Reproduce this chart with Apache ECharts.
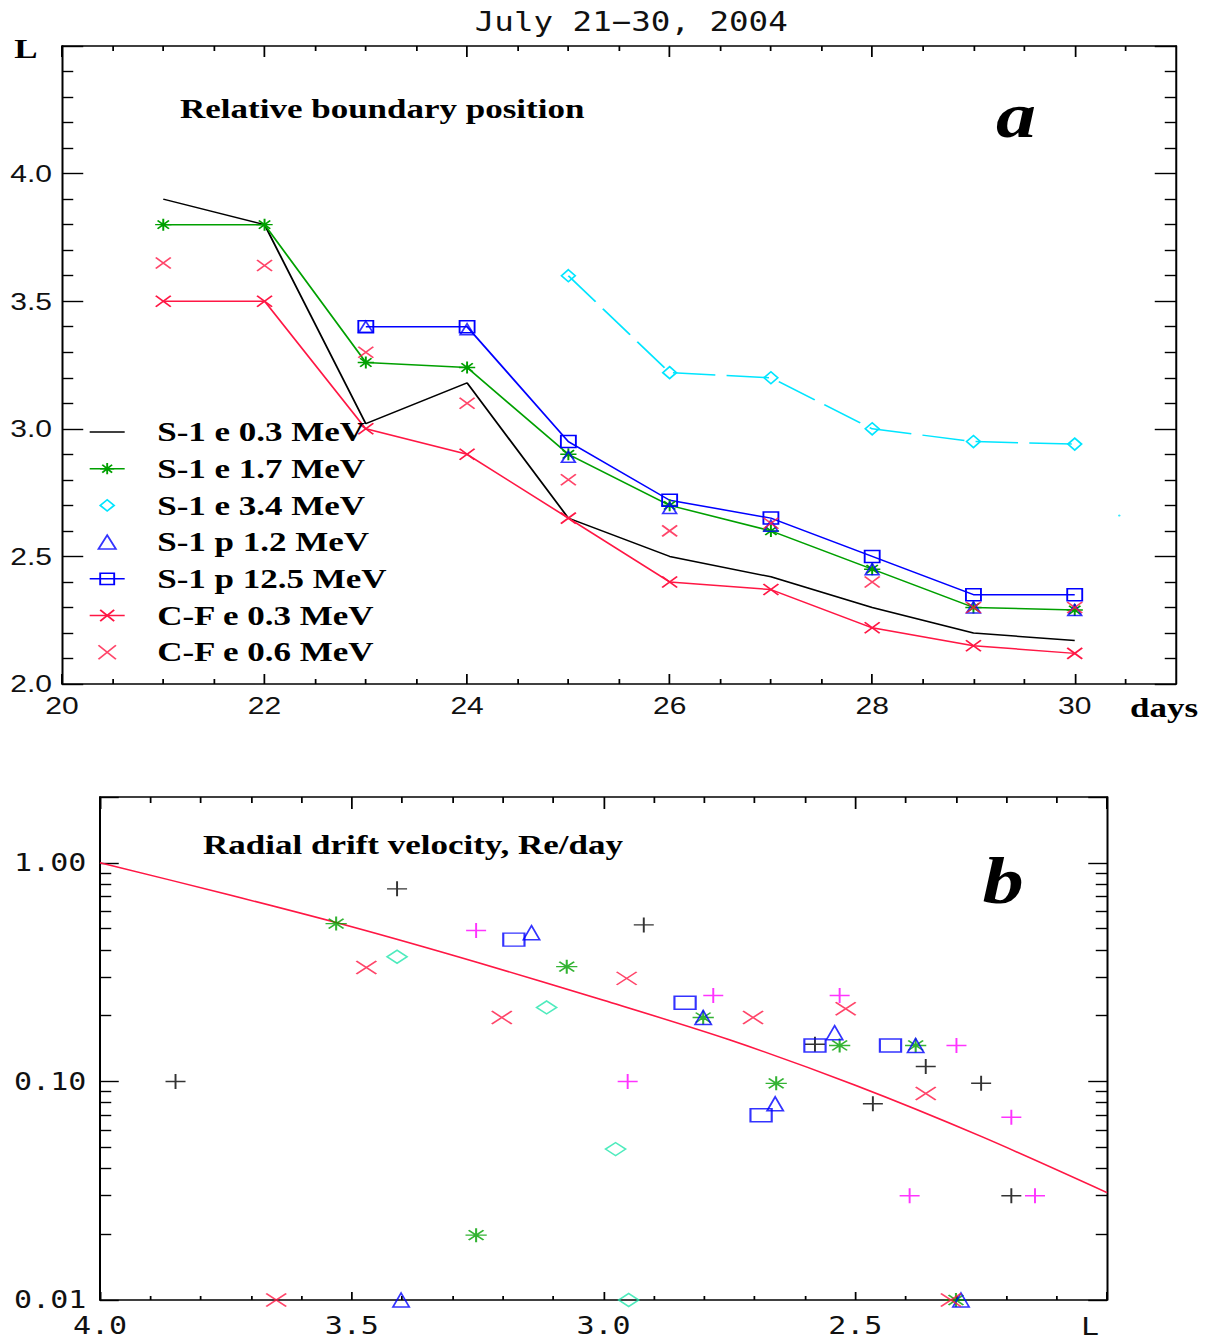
<!DOCTYPE html>
<html>
<head>
<meta charset="utf-8">
<title>Relative boundary position and radial drift velocity, July 21-30, 2004</title>
<script src="https://cdn.jsdelivr.net/npm/echarts@6/dist/echarts.min.js"></script>
<style>
  html, body { margin: 0; padding: 0; background: #fff; overflow: hidden; }
  /* The figure is laid out on a narrower canvas and widened by 1.25,
     which gives the wide lettering and wide markers of the original plot. */
  #chart { width: 966px; height: 1340px; transform: scaleX(1.25); transform-origin: 0 0; }
</style>
</head>
<body>
<div id="chart"></div>
<script>
// ---------- panel a: relative boundary position (L) versus day of July 2004 ----------
const days = [21, 22, 23, 24, 25, 26, 27, 28, 29, 30];
const s1e03 = [3.90, 3.80, 3.02, 3.18, 2.65, 2.50, 2.42, 2.30, 2.20, 2.17];
const s1e17 = [3.80, 3.80, 3.26, 3.24, 2.90, 2.70, 2.60, 2.45, 2.30, 2.29];
const s1e34Days = [25, 26, 27, 28, 29, 30];
const s1e34 = [3.60, 3.22, 3.20, 3.00, 2.95, 2.94];
const s1e34EdgeDay = [30.44];
const s1e34Edge = [2.66];
const s1p12Days = [23, 24, 25, 26, 27, 28, 29, 30];
const s1p12 = [3.40, 3.39, 2.89, 2.69, 2.62, 2.45, 2.30, 2.29];
const s1p125 = [3.40, 3.40, 2.95, 2.72, 2.65, 2.50, 2.35, 2.35];
const cfe03 = [3.50, 3.50, 3.00, 2.90, 2.65, 2.40, 2.37, 2.22, 2.15, 2.12];
const cfe06 = [3.65, 3.64, 3.30, 3.10, 2.80, 2.60, 2.63, 2.40, 2.30, 2.30];

const dayMajorTicks = [20, 22, 24, 26, 28, 30];
const dayMinorTicks = [20.5, 21, 21.5, 22.5, 23, 23.5, 24.5, 25, 25.5, 26.5, 27, 27.5, 28.5, 29, 29.5, 30.5];
const dayLabels = [20, 22, 24, 26, 28, 30];

// ---------- panel b: radial drift velocity (Re/day) versus L ----------
const driftE03L = [3.85, 3.41, 2.92, 2.58, 2.36, 2.465, 2.25, 2.19];
const driftE03V = [0.10, 0.76, 0.52, 0.148, 0.117, 0.079, 0.098, 0.030];
const driftE17L = [3.531, 3.073, 2.802, 2.531, 2.380, 2.657, 3.253, 2.30];
const driftE17V = [0.527, 0.335, 0.196, 0.146, 0.146, 0.098, 0.0198, 0.01];
const driftE34L = [3.41, 3.113, 2.976, 2.95];
const driftE34V = [0.372, 0.218, 0.049, 0.01];
const driftP12L = [3.143, 2.802, 2.541, 2.380, 2.659, 3.402, 2.29];
const driftP12V = [0.479, 0.196, 0.167, 0.146, 0.079, 0.01, 0.01];
const driftP125L = [3.178, 2.838, 2.580, 2.430, 2.687];
const driftP125V = [0.445, 0.229, 0.146, 0.146, 0.070];
const driftCFL = [3.471, 2.954, 3.202, 2.703, 2.519, 2.360, 3.650, 2.31];
const driftCFV = [0.332, 0.296, 0.196, 0.196, 0.215, 0.088, 0.01, 0.01];
const driftOtherL = [3.253, 2.782, 2.531, 2.952, 2.299, 2.190, 2.392, 2.143];
const driftOtherV = [0.49, 0.247, 0.247, 0.10, 0.146, 0.0685, 0.030, 0.030];
const fitL = [4.0, 3.75, 3.5, 3.25, 3.0, 2.75, 2.5, 2.25, 2.0];
const fitV = [1.0, 0.72, 0.51, 0.35, 0.235, 0.155, 0.096, 0.056, 0.031];

const velocityMinorTicks = [0.02, 0.03, 0.04, 0.05, 0.06, 0.07, 0.08, 0.09,
                            0.2, 0.3, 0.4, 0.5, 0.6, 0.7, 0.8, 0.9];

// ---------- styling ----------
const COLORS = {
  black: '#000000', green: '#00a000', cyan: '#00e5ff', blue: '#0000ff',
  red: '#ff1744', magenta: '#ff00ff', teal: '#22e6ac'
};
const SYMBOLS = {
  plus: 'path://M0,5L10,5M5,0L5,10',
  cross: 'path://M0,0L10,10M10,0L0,10',
  star: 'path://M0,5L10,5M5,0L5,10M1.5,1.5L8.5,8.5M8.5,1.5L1.5,8.5',
  diamond: 'path://M5,0L10,5L5,10L0,5Z',
  triangle: 'path://M5,0L10,10L0,10Z',
  square: 'path://M0,0L10,0L10,10L0,10Z'
};

const pairs = (xs, ys) => xs.map((x, i) => [x, ys[i]]);

const frameLine = { color: '#000', width: 1.6 };
const tickLine = { color: '#000', width: 1.4 };
const labelA = { fontFamily: 'Liberation Sans', fontSize: 24, color: '#111' };
const labelB = { fontFamily: 'DejaVu Sans Mono', fontSize: 24, color: '#111' };
const serifBold = '"Liberation Serif", "Times New Roman", serif';

function markerStyle(color) {
  return { color: 'transparent', borderColor: color, borderWidth: 1.5 };
}

function lineSeries(name, data, color, symbol, size, dashed) {
  return {
    type: 'line', name, data, xAxisIndex: 0, yAxisIndex: 0,
    symbol: symbol || 'none', symbolSize: size, showSymbol: !!symbol,
    lineStyle: { color, width: 1.5, type: dashed ? [34, 9] : 'solid' },
    itemStyle: symbol ? markerStyle(color) : { color: 'transparent', borderWidth: 0 },
    emphasis: { disabled: true }, silent: true, z: 3
  };
}

function pointSeries(name, data, color, symbol, size, xi, yi) {
  return {
    type: 'scatter', name, data, xAxisIndex: xi, yAxisIndex: yi,
    symbol, symbolSize: size,
    itemStyle: markerStyle(color),
    emphasis: { disabled: true }, silent: true, z: 4
  };
}

// ---------- axes ----------
function dayAxis(position, ticks, len, showLine, labels) {
  return {
    type: 'value', gridIndex: 0, position, min: 20, max: 31,
    axisLine: { show: showLine, onZero: false, lineStyle: frameLine },
    axisTick: { show: true, inside: true, length: len, customValues: ticks, lineStyle: tickLine },
    axisLabel: labels ? Object.assign({ margin: 10, customValues: labels }, labelA) : { show: false },
    splitLine: { show: false }
  };
}

function boundaryAxis(position, withLabels) {
  return {
    type: 'value', gridIndex: 0, position, min: 2, max: 4.5, interval: 0.5,
    axisLine: { show: true, onZero: false, lineStyle: frameLine },
    axisTick: { show: true, inside: true, length: 17, lineStyle: tickLine },
    minorTick: { show: true, splitNumber: 5, length: 9, lineStyle: tickLine },
    axisLabel: withLabels
      ? Object.assign({ margin: 8, formatter: v => (v > 4.25 ? '' : v.toFixed(1)) }, labelA)
      : { show: false },
    splitLine: { show: false }, minorSplitLine: { show: false }
  };
}

function shellAxis(position, withLabels, len, minorLen) {
  return {
    type: 'value', gridIndex: 1, position, inverse: true, min: 2, max: 4, interval: 0.5,
    axisLine: { show: true, onZero: false, lineStyle: frameLine },
    axisTick: { show: true, inside: true, length: len, lineStyle: tickLine },
    minorTick: { show: true, splitNumber: 5, length: minorLen, lineStyle: tickLine },
    axisLabel: withLabels
      ? Object.assign({ margin: 14, formatter: v => (v < 2.05 ? '' : v.toFixed(1)) }, labelB)
      : { show: false },
    splitLine: { show: false }, minorSplitLine: { show: false }
  };
}

function velocityAxis(position, withLabels) {
  return {
    type: 'log', logBase: 10, gridIndex: 1, position, min: 0.01, max: 2,
    axisLine: { show: true, onZero: false, lineStyle: frameLine },
    axisTick: { show: true, inside: true, length: 15, lineStyle: tickLine },
    axisLabel: withLabels
      ? Object.assign({ margin: 11, formatter: v => (v > 1.5 ? '' : v.toFixed(2)) }, labelB)
      : { show: false },
    splitLine: { show: false }
  };
}

// minor decade ticks (2..9 of each decade) on a companion axis in log10 units
function velocityMinorAxis(position) {
  return {
    type: 'value', gridIndex: 1, position, min: Math.log10(0.01), max: Math.log10(2),
    axisLine: { show: false },
    axisTick: { show: true, inside: true, length: 9, lineStyle: tickLine,
                customValues: velocityMinorTicks.map(v => Math.log10(v)) },
    axisLabel: { show: false },
    splitLine: { show: false }
  };
}

// ---------- legend entries for panel a ----------
function legendItem(name, color, opts) {
  return {
    name,
    itemStyle: { color: 'transparent', borderColor: color, borderWidth: opts.marker ? 1.5 : 0 },
    lineStyle: { color, width: 1.5, opacity: opts.line ? 1 : 0 }
  };
}

const option = {
  animation: false,
  backgroundColor: '#ffffff',
  grid: [
    { left: 49.6, top: 46, width: 891.2, height: 638, containLabel: false, outerBoundsMode: 'none' },
    { left: 80, top: 797, width: 805.6, height: 503, containLabel: false, outerBoundsMode: 'none' }
  ],
  xAxis: [
    dayAxis('bottom', dayMajorTicks, 10, true, dayLabels),
    dayAxis('bottom', dayMinorTicks, 5, false, null),
    dayAxis('top', dayMajorTicks, 11, true, null),
    dayAxis('top', dayMinorTicks, 5, false, null),
    shellAxis('bottom', true, 8, 4),
    shellAxis('top', false, 12, 6)
  ],
  yAxis: [
    boundaryAxis('left', true),
    boundaryAxis('right', false),
    velocityAxis('left', true),
    velocityAxis('right', false),
    velocityMinorAxis('left'),
    velocityMinorAxis('right')
  ],
  legend: {
    orient: 'vertical', left: 66, top: 412,
    itemWidth: 28, itemHeight: 14, itemGap: 6.7,
    selectedMode: false,
    textStyle: { fontFamily: serifBold, fontWeight: 'bold', fontSize: 28, color: '#000',
                 lineHeight: 30, padding: [0, 0, 0, 21] },
    data: [
      legendItem('S-1 e 0.3 MeV', COLORS.black, { line: true, marker: false }),
      legendItem('S-1 e 1.7 MeV', COLORS.green, { line: true, marker: true }),
      legendItem('S-1 e 3.4 MeV', COLORS.cyan, { line: false, marker: true }),
      legendItem('S-1 p 1.2 MeV', COLORS.blue, { line: false, marker: true }),
      legendItem('S-1 p 12.5 MeV', COLORS.blue, { line: true, marker: true }),
      legendItem('C-F e 0.3 MeV', COLORS.red, { line: true, marker: true }),
      legendItem('C-F e 0.6 MeV', COLORS.red, { line: false, marker: true })
    ]
  },
  series: [
    // panel a
    lineSeries('S-1 e 0.3 MeV', pairs(days, s1e03), COLORS.black, null, 0, false),
    lineSeries('S-1 e 1.7 MeV', pairs(days, s1e17), COLORS.green, SYMBOLS.star, [13, 12], false),
    lineSeries('S-1 e 3.4 MeV', pairs(s1e34Days, s1e34), COLORS.cyan, SYMBOLS.diamond, [11, 12], true),
    {
      type: 'scatter', name: 'S-1 e 3.4 MeV edge', data: pairs(s1e34EdgeDay, s1e34Edge),
      xAxisIndex: 0, yAxisIndex: 0, symbol: 'circle', symbolSize: 2,
      itemStyle: { color: COLORS.cyan }, emphasis: { disabled: true }, silent: true
    },
    pointSeries('S-1 p 1.2 MeV', pairs(s1p12Days, s1p12), COLORS.blue, SYMBOLS.triangle, [11, 11], 0, 0),
    lineSeries('S-1 p 12.5 MeV', pairs(s1p12Days, s1p125), COLORS.blue, SYMBOLS.square, [12, 12], false),
    lineSeries('C-F e 0.3 MeV', pairs(days, cfe03), COLORS.red, SYMBOLS.cross, [12, 11], false),
    pointSeries('C-F e 0.6 MeV', pairs(days, cfe06), COLORS.red, SYMBOLS.cross, [12, 11], 0, 0),

    // panel b
    {
      type: 'line', name: 'drift fit', data: pairs(fitL, fitV), xAxisIndex: 4, yAxisIndex: 2,
      symbol: 'none', smooth: 0.3, lineStyle: { color: COLORS.red, width: 1.5 },
      emphasis: { disabled: true }, silent: true, z: 2
    },
    pointSeries('drift S-1 e 0.3', pairs(driftE03L, driftE03V), COLORS.black, SYMBOLS.plus, [16, 15], 4, 2),
    pointSeries('drift other', pairs(driftOtherL, driftOtherV), COLORS.magenta, SYMBOLS.plus, [16, 15], 4, 2),
    pointSeries('drift S-1 e 1.7', pairs(driftE17L, driftE17V), COLORS.green, SYMBOLS.star, [17, 14], 4, 2),
    pointSeries('drift S-1 e 3.4', pairs(driftE34L, driftE34V), COLORS.teal, SYMBOLS.diamond, [16, 13], 4, 2),
    pointSeries('drift S-1 p 12.5', pairs(driftP125L, driftP125V), COLORS.blue, SYMBOLS.square, [17, 13], 4, 2),
    pointSeries('drift S-1 p 1.2', pairs(driftP12L, driftP12V), COLORS.blue, SYMBOLS.triangle, [13, 14], 4, 2),
    pointSeries('drift C-F e', pairs(driftCFL, driftCFV), COLORS.red, SYMBOLS.cross, [16, 13], 4, 2)
  ],
  graphic: [
    { type: 'text', x: 505, y: 22, z: 10,
      style: { text: 'July 21\u221230, 2004', font: '26px "DejaVu Sans Mono", monospace', fill: '#111',
               align: 'center', verticalAlign: 'middle' } },
    { type: 'text', x: 20.8, y: 49, z: 10,
      style: { text: 'L', font: 'bold 28px ' + serifBold, fill: '#000', align: 'center', verticalAlign: 'middle' } },
    { type: 'text', x: 144, y: 109, z: 10,
      style: { text: 'Relative boundary position', font: 'bold 28px ' + serifBold, fill: '#000',
               align: 'left', verticalAlign: 'middle' } },
    { type: 'text', x: 812.8, y: 115, z: 10,
      style: { text: 'a', font: 'italic bold 64px ' + serifBold, fill: '#000', align: 'center', verticalAlign: 'middle' } },
    { type: 'text', x: 904, y: 708, z: 10,
      style: { text: 'days', font: 'bold 28px ' + serifBold, fill: '#000', align: 'left', verticalAlign: 'middle' } },
    { type: 'text', x: 162.4, y: 845, z: 10,
      style: { text: 'Radial drift velocity, Re/day', font: 'bold 28px ' + serifBold, fill: '#000',
               align: 'left', verticalAlign: 'middle' } },
    { type: 'text', x: 802.4, y: 880, z: 10,
      style: { text: 'b', font: 'italic bold 66px ' + serifBold, fill: '#000', align: 'center', verticalAlign: 'middle' } },
    { type: 'text', x: 872, y: 1327, z: 10,
      style: { text: 'L', font: '24px "DejaVu Sans Mono", monospace', fill: '#111', align: 'center', verticalAlign: 'middle' } }
  ]
};

const chart = echarts.init(document.getElementById('chart'), null, { renderer: 'svg' });
chart.setOption(option);
</script>
</body>
</html>
